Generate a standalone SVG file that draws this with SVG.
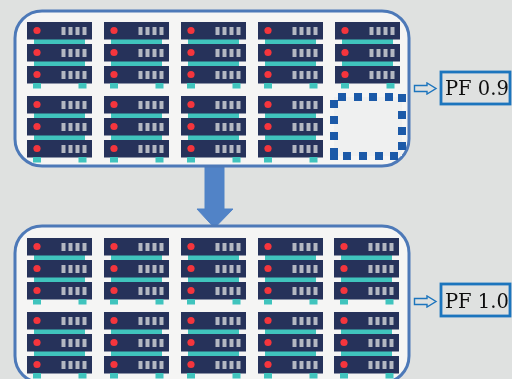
<svg xmlns="http://www.w3.org/2000/svg" width="512" height="379" viewBox="0 0 512 379">
<style>
.panel{fill:#f5f5f4;stroke:#4d79b8;stroke-width:3}
.body{fill:#25335a}
.led{fill:#f5363c}
.bay{fill:#b4b8c2}
.teal{fill:#3fc4bd}
.dot{fill:#1c5aa8}
.label{fill:none;stroke:#1c74bd;stroke-width:2.8}
.txt{font-family:"DejaVu Serif","Liberation Serif",serif;font-size:19.5px;fill:#111}
.hollow{fill:none;stroke:#1c74bd;stroke-width:1.4}
</style>
<defs>
<filter id="soft" x="-5%" y="-5%" width="110%" height="110%"><feGaussianBlur stdDeviation="0.75"/></filter>
<filter id="softer" x="-5%" y="-5%" width="110%" height="110%"><feGaussianBlur stdDeviation="0.3"/></filter>
<g id="unit">
<rect class="body" x="0" y="0" width="65" height="17.500"/>
<circle class="led" cx="10" cy="8.500" r="3.6"/>
<rect class="bay" x="34.500" y="5" width="4" height="8"/>
<rect class="bay" x="41.500" y="5" width="4" height="8"/>
<rect class="bay" x="48.500" y="5" width="4" height="8"/>
<rect class="bay" x="55.500" y="5" width="4" height="8"/>
</g>
<g id="rack">
<rect class="teal" x="7" y="17" width="51" height="5"/>
<rect class="teal" x="7" y="39" width="51" height="5"/>
<use href="#unit" y="0"/>
<use href="#unit" y="22"/>
<use href="#unit" y="44"/>
<rect class="teal" x="6" y="61" width="8" height="5.500"/>
<rect class="teal" x="51.500" y="61" width="8" height="5.500"/>
</g>
</defs>
<rect width="512" height="379" fill="#dfe1e0"/>
<g id="connectors">
<path id="down-arrow" filter="url(#soft)" d="M205 166H224V209H233L214.500 228L197 209H205Z" fill="#5183c7" stroke="#5183c7"/>
<path id="arrow-pf09" class="hollow" filter="url(#softer)" d="M414.500 85.500H427V83L436 88.500L427 94V91.500H414.500Z"/>
<path id="arrow-pf10" class="hollow" filter="url(#softer)" d="M414.500 298.500H427V296L436 301.500L427 307V304.500H414.500Z"/>
</g>
<g id="node-top" filter="url(#soft)">
<rect class="panel" x="15" y="11" width="394" height="155" rx="27"/>
<use href="#rack" x="27" y="22"/><use href="#rack" x="104" y="22"/><use href="#rack" x="181" y="22"/><use href="#rack" x="258" y="22"/><use href="#rack" x="335" y="22"/>
<use href="#rack" x="27" y="96"/><use href="#rack" x="104" y="96"/><use href="#rack" x="181" y="96"/><use href="#rack" x="258" y="96"/>
</g>
<g id="node-empty-slot" filter="url(#soft)">
<rect x="334" y="97" width="68" height="59" fill="#eff0f0"/>
<rect class="dot" x="338" y="93" width="8" height="8"/><rect class="dot" x="354" y="93" width="8" height="8"/><rect class="dot" x="369" y="93" width="8" height="8"/><rect class="dot" x="385" y="93" width="8" height="8"/><rect class="dot" x="398" y="94" width="8" height="8"/>
<rect class="dot" x="398" y="111" width="8" height="8"/><rect class="dot" x="398" y="127" width="8" height="8"/><rect class="dot" x="398" y="142" width="8" height="8"/>
<rect class="dot" x="343" y="152" width="8" height="8"/><rect class="dot" x="359" y="152" width="8" height="8"/><rect class="dot" x="375" y="152" width="8" height="8"/><rect class="dot" x="390" y="152" width="8" height="8"/>
<rect class="dot" x="330" y="100" width="8" height="8"/><rect class="dot" x="330" y="116" width="8" height="8"/><rect class="dot" x="330" y="132" width="8" height="8"/><rect class="dot" x="330" y="148" width="8" height="12"/>
</g>
<g id="node-bottom" filter="url(#soft)">
<rect class="panel" x="15" y="226" width="394" height="157" rx="27"/>
<use href="#rack" x="27" y="238"/><use href="#rack" x="104" y="238"/><use href="#rack" x="181" y="238"/><use href="#rack" x="258" y="238"/><use href="#rack" x="334" y="238"/>
<use href="#rack" x="27" y="312"/><use href="#rack" x="104" y="312"/><use href="#rack" x="181" y="312"/><use href="#rack" x="258" y="312"/><use href="#rack" x="334" y="312"/>
</g>
<g id="node-pf09" filter="url(#softer)">
<rect class="label" x="441" y="72" width="69" height="32"/>
<text class="txt" x="445" y="95">PF 0.9</text>
</g>
<g id="node-pf10" filter="url(#softer)">
<rect class="label" x="441" y="284" width="69" height="32"/>
<text class="txt" x="445" y="308">PF 1.0</text>
</g>
</svg>
